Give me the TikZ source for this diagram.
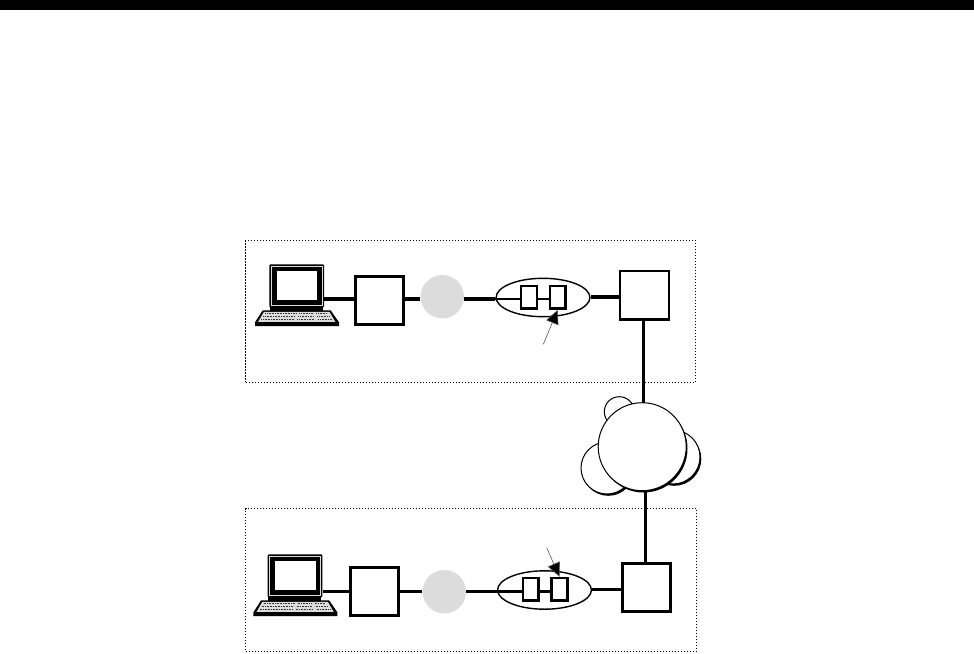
\documentclass[tikz,border=0pt]{standalone}
\usetikzlibrary{arrows.meta,shapes.geometric}
\definecolor{discgray}{HTML}{DCDCDC}
\tikzset{
  x=1pt,y=-1pt,
  panel/.style={draw,line width=1.1pt,dash pattern=on 1.1pt off 1.9pt,fill=none},
  boxthick/.style={draw,fill=white,line width=3pt,rectangle,inner sep=0pt,minimum width=48.2pt,minimum height=48.2pt},
  boxthin/.style={draw,fill=white,line width=2.3pt,rectangle,inner sep=0pt,minimum width=48.6pt,minimum height=48.6pt},
  disc/.style={circle,fill=discgray,inner sep=0pt,minimum size=43.4pt},
  oval/.style={draw,ellipse,line width=1.4pt,inner sep=0pt,minimum width=93.8pt,minimum height=38.4pt},
  cell/.style={draw,fill=white,line width=2.4pt,rectangle,inner sep=0pt,minimum width=15.8pt,minimum height=22.6pt},
  link/.style={line width=3.2pt},
  linkthin/.style={line width=2.6pt},
  trunk/.style={line width=3.4pt},
  pointer/.style={line width=.6pt,draw=black!65,-{Triangle[length=14pt,width=13pt,fill=black]}},
  lobe/.style={draw,fill=white,line width=1pt,circle,inner sep=0pt},
  lobeshadow/.style={fill=black,circle,inner sep=0pt},
  keydash/.style={line width=.9pt,draw=black!80,dash pattern=on 1.1pt off .5pt},
  computer/.pic={
    \fill[black,rounded corners=1pt] (0,0) rectangle (54.7,43);
    \draw[discgray,line width=.8pt] (1.8,1.8) rectangle (52.9,41.2);
    \fill[black] (2.6,2.6) rectangle (52.1,40.4);
    \fill[white] (7.4,6.4) rectangle (48,35.7);
    \fill[black] (.7,43) rectangle (53.4,47);
    \fill[black] (-6.6,46) -- (61.4,46) -- (69.7,58) -- (69.7,61.7) -- (-14.3,61.7) -- (-14.3,58) -- cycle;
    \fill[discgray] (-5.4,47.6) -- (60.2,47.6) -- (66,57.6) -- (-11.2,57.6) -- cycle;
    \foreach \r/\a/\b in {49.4/-4/27,49.4/30/44,52.4/-6/26,52.4/29/44,55.4/-8/25,55.4/28/45}
      \draw[keydash] (\a,\r) -- (\b,\r);
    \foreach \r/\a/\b in {49.4/47/58,52.4/48/60,55.4/49/62}
      \draw[keydash] (\a,\r) -- (\b,\r);
  }
}
\begin{document}
\begin{tikzpicture}
\useasboundingbox (0,0) rectangle (974,653);
\fill[white] (0,0) rectangle (974,653);
\fill[black] (0,0) rectangle (974,10);

% panels
\node[panel,rectangle,inner sep=0pt,minimum width=449.6pt,minimum height=141.7pt] (panelA) at (470.5,311.2) {};
\node[panel,rectangle,inner sep=0pt,minimum width=451pt,minimum height=142.6pt] (panelB) at (471.2,580) {};

% computers
\pic at (269.3,264.3) {computer};
\pic at (267.7,554.3) {computer};
\node[inner sep=0pt,minimum width=54.7pt,minimum height=43pt] (pcA) at (296.6,285.8) {};
\node[inner sep=0pt,minimum width=54.7pt,minimum height=43pt] (pcB) at (295,575.8) {};

% row coordinates
\coordinate (rowA) at (0,299);
\coordinate (rowB) at (0,591.7);
\coordinate (rowA2) at (0,297);
\coordinate (rowB2) at (0,589.5);

% nodes
\node[boxthick] (boxA) at (379.5,300.3) {};
\node[disc] (discA) at (442.3,296.7) {};
\node[oval] (ovalA) at (543,297.5) {};
\node[cell] (cellA1) at (529,297.3) {};
\node[cell] (cellA2) at (557.7,297.3) {};
\node[boxthin] (routerA) at (644.5,295.3) {};

\node[boxthick] (boxB) at (374.5,591.3) {};
\node[disc] (discB) at (444.3,591.7) {};
\node[oval] (ovalB) at (544.5,590) {};
\node[cell] (cellB1) at (530.7,589.3) {};
\node[cell] (cellB2) at (559.5,589.3) {};
\node[boxthick] (routerB) at (646.2,587.5) {};

% connectors
\draw[link] (pcA.east |- rowA) -- (boxA.west |- rowA);
\draw[link] (boxA.east |- rowA) -- (discA.west |- rowA);
\draw[link] (discA.east |- rowA) -- (ovalA.west |- rowA);
\draw[linkthin] (ovalA.west |- rowA) -- (cellA1.west |- rowA);
\draw[linkthin] (cellA1.east |- rowA) -- (cellA2.west |- rowA);
\draw[link] (ovalA.east |- rowA2) -- (routerA.west |- rowA2);

\draw[linkthin] (pcB.east |- rowB) -- (boxB.west |- rowB);
\draw[linkthin] (boxB.east |- rowB) -- (discB.west |- rowB);
\draw[link] (discB.east |- rowB) -- (ovalB.west |- rowB);
\draw[linkthin] (ovalB.west |- rowB) -- (cellB1.west |- rowB);
\draw[linkthin] (cellB1.east |- rowB) -- (cellB2.west |- rowB);
\draw[linkthin] (ovalB.east |- rowB2) -- (routerB.west |- rowB2);

% cloud
\coordinate (trunkA) at (643.3,0);
\coordinate (trunkB) at (645.3,0);
\foreach \cx/\cy/\d in {619.3/411.7/30,607/468/52,673/457/54,642.2/446.7/88}{
  \node[lobeshadow,minimum size=\d pt] at (\cx+1.3,\cy+1.8) {};
  \node[lobe,minimum size=\d pt] at (\cx,\cy) {};
}
\node[circle,inner sep=0pt,minimum size=88pt] (cloud) at (642.2,446.7) {};
\draw[trunk] (routerA.south -| trunkA) -- (cloud.north -| trunkA);
\draw[trunk] (cloud.south -| trunkB) -- (routerB.north -| trunkB);

% pointers
\coordinate (tailA) at (543.3,344.3);
\coordinate (tailB) at (546.7,547.7);
\draw[pointer] (tailA) -- (cellA2.south);
\draw[pointer] (tailB) -- (cellB2.north);
\end{tikzpicture}
\end{document}
